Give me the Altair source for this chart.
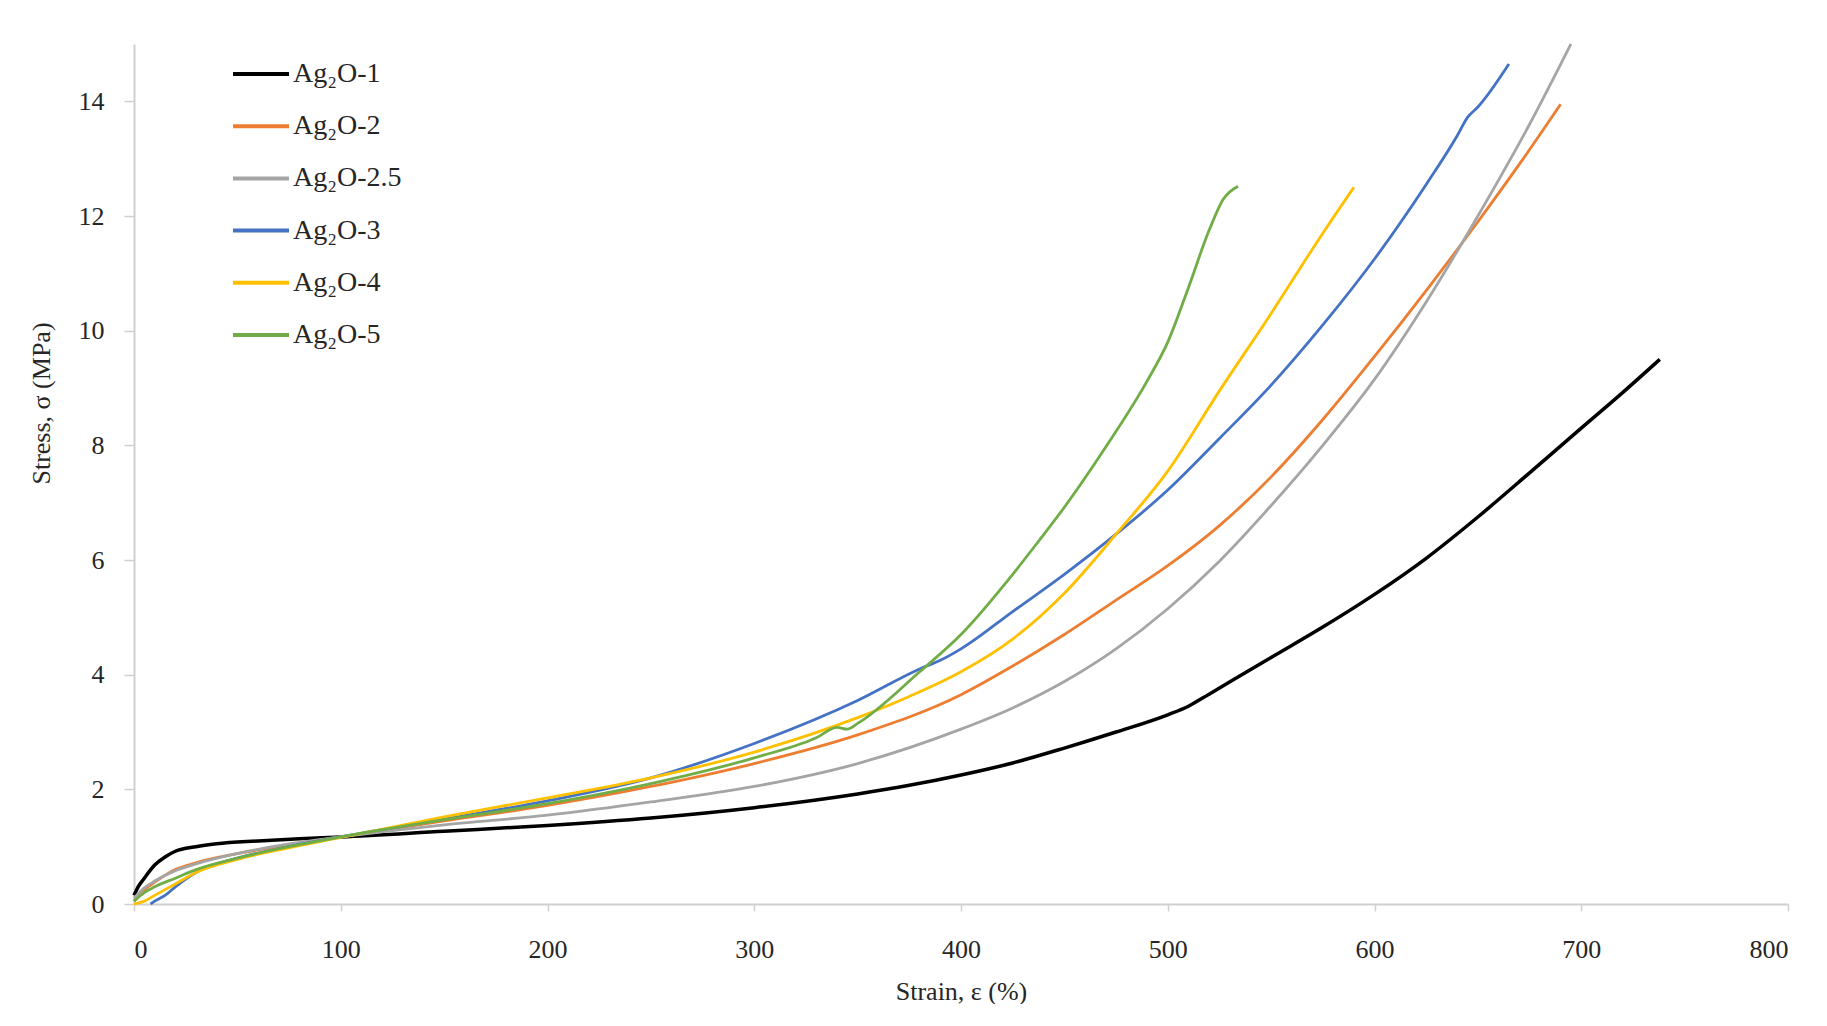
import altair as alt
import pandas as pd

series_names = ["Ag₂O-1", "Ag₂O-2", "Ag₂O-2.5", "Ag₂O-3", "Ag₂O-4", "Ag₂O-5"]
series_colors = ["#000000", "#ED7D31", "#A5A5A5", "#4472C4", "#FFC000", "#70AD47"]

s1_x = [0, 2, 5, 10, 15, 20, 30, 40, 60, 80, 100, 150, 200, 250, 300, 350, 375, 400, 425, 450, 475, 500, 510, 520, 535, 550, 575, 600, 625, 650, 675, 700, 720, 738]
s1_y = [0.15, 0.3, 0.45, 0.68, 0.82, 0.92, 1.0, 1.05, 1.1, 1.14, 1.17, 1.27, 1.37, 1.5, 1.68, 1.92, 2.07, 2.25, 2.46, 2.72, 3.0, 3.3, 3.45, 3.66, 3.98, 4.3, 4.83, 5.4, 6.03, 6.75, 7.52, 8.3, 8.92, 9.5]

s2_x = [0, 5, 10, 20, 30, 50, 75, 100, 150, 200, 250, 300, 350, 400, 425, 450, 475, 500, 525, 550, 575, 600, 625, 650, 670, 690]
s2_y = [0.05, 0.25, 0.38, 0.6, 0.72, 0.88, 1.03, 1.17, 1.45, 1.72, 2.05, 2.45, 2.95, 3.65, 4.15, 4.7, 5.3, 5.9, 6.6, 7.45, 8.45, 9.55, 10.7, 11.9, 12.9, 13.95]

s25_x = [0, 5, 10, 20, 30, 50, 75, 100, 150, 200, 250, 300, 350, 400, 425, 450, 475, 500, 525, 550, 575, 600, 625, 650, 675, 695]
s25_y = [0.1, 0.28, 0.4, 0.58, 0.7, 0.88, 1.05, 1.17, 1.38, 1.55, 1.78, 2.05, 2.45, 3.05, 3.42, 3.88, 4.45, 5.15, 5.98, 6.95, 8.0, 9.15, 10.5, 12.0, 13.6, 15.0]

s3_x = [8, 10, 15, 20, 30, 50, 75, 100, 150, 200, 250, 300, 350, 380, 390, 400, 425, 450, 475, 500, 525, 550, 575, 600, 625, 640, 645, 650, 665]
s3_y = [0.0, 0.05, 0.15, 0.3, 0.55, 0.8, 1.0, 1.17, 1.48, 1.8, 2.2, 2.8, 3.55, 4.1, 4.25, 4.45, 5.1, 5.75, 6.45, 7.22, 8.12, 9.05, 10.1, 11.25, 12.55, 13.4, 13.72, 13.9, 14.65]

s4_x = [0, 5, 10, 20, 30, 50, 75, 100, 150, 200, 250, 300, 350, 375, 400, 425, 450, 475, 500, 525, 550, 575, 590]
s4_y = [0.0, 0.05, 0.15, 0.35, 0.55, 0.78, 0.98, 1.16, 1.52, 1.85, 2.2, 2.65, 3.25, 3.62, 4.05, 4.62, 5.42, 6.45, 7.55, 8.95, 10.3, 11.7, 12.5]

s5_x = [0, 5, 10, 20, 30, 50, 75, 100, 150, 200, 250, 300, 330, 340, 345, 350, 380, 400, 425, 438, 450, 470, 490, 500, 510, 520, 527, 534]
s5_y = [0.05, 0.2, 0.3, 0.45, 0.6, 0.8, 1.0, 1.17, 1.47, 1.75, 2.1, 2.55, 2.9, 3.08, 3.05, 3.15, 4.05, 4.7, 5.75, 6.35, 6.92, 7.97, 9.12, 9.8, 10.75, 11.75, 12.3, 12.52]

x_ticks = [0, 100, 200, 300, 400, 500, 600, 700, 800]
y_ticks = [0, 2, 4, 6, 8, 10, 12, 14]

all_x = [s1_x, s2_x, s25_x, s3_x, s4_x, s5_x]
all_y = [s1_y, s2_y, s25_y, s3_y, s4_y, s5_y]

rows = []
for name, xs, ys in zip(series_names, all_x, all_y):
    for xv, yv in zip(xs, ys):
        rows.append({"series": name, "strain": xv, "stress": yv})
df = pd.DataFrame(rows)

FONT = "Liberation Serif"
TXT = "#262626"
AX = "#d0d0d0"

chart = alt.Chart(df).mark_line(interpolate="monotone").encode(
    x=alt.X("strain:Q",
            scale=alt.Scale(domain=[0, 800], nice=False),
            axis=alt.Axis(values=x_ticks, title="Strain, ε (%)", grid=False,
                          domainColor=AX, domainWidth=2, tickColor=AX, tickWidth=1.5,
                          tickSize=7, labelPadding=25, labelFontSize=26, labelFont=FONT,
                          labelColor=TXT, titleFont=FONT, titleFontSize=26,
                          titleFontWeight="normal", titleColor=TXT,
                          titleY=87, titleBaseline="middle")),
    y=alt.Y("stress:Q",
            scale=alt.Scale(domain=[0, 15], nice=False),
            axis=alt.Axis(values=y_ticks, title="Stress, σ (MPa)", grid=False,
                          domainColor=AX, domainWidth=2, tickColor=AX, tickWidth=1.5,
                          tickSize=10, labelPadding=20, labelFontSize=26, labelFont=FONT,
                          labelColor=TXT, titleFont=FONT, titleFontSize=26,
                          titleFontWeight="normal", titleColor=TXT,
                          titleX=-93, titleY=359, titleAngle=270,
                          titleBaseline="middle", titleAlign="center")),
    color=alt.Color("series:N",
                    scale=alt.Scale(domain=series_names, range=series_colors),
                    sort=series_names,
                    legend=alt.Legend(orient="none", legendX=97, legendY=0, title=None,
                                      symbolType="stroke", symbolSize=3136,
                                      symbolStrokeWidth=4, labelFontSize=28,
                                      labelFont=FONT, labelColor=TXT, labelOffset=2,
                                      rowPadding=8.2, padding=0)),
    strokeWidth=alt.condition(alt.datum.series == "Ag₂O-1", alt.value(3.5), alt.value(2.8)),
    order=alt.Order("strain:Q"),
).properties(
    width=1654, height=860,
    autosize=alt.AutoSizeParams(type="none"),
    padding={"left": 126, "top": 36, "right": 31, "bottom": 100},
    background="white",
).configure_view(stroke=None)

chart.save("out.html", embed_options={"renderer": "svg", "actions": False})
